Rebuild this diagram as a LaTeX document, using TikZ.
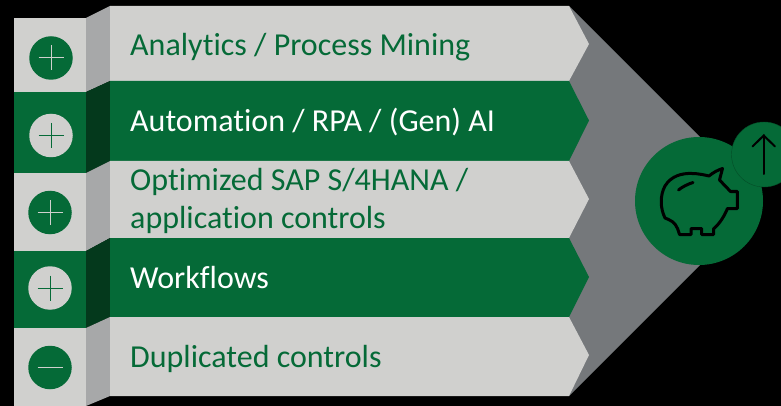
\documentclass[tikz,border=0pt]{standalone}
\usepackage{fontspec}
\setmainfont[Ligatures=NoCommon]{Carlito}
\definecolor{leaf}{HTML}{056A37}
\definecolor{leafdark}{HTML}{04391C}
\definecolor{stone}{HTML}{D0D0CE}
\definecolor{stonedark}{HTML}{A7A8A9}
\definecolor{slate}{HTML}{75787B}
\tikzset{
  rowtext/.style= {anchor=base west, inner sep=0, font=\fontsize{32}{38}\selectfont, align=left},
  darktext/.style= {rowtext, text=leaf},
  lighttext/.style= {rowtext, text=white},
  sign/.style= {circle, minimum size=43.5pt, inner sep=0},
  darksign/.style= {sign, fill=leaf},
  lightsign/.style= {sign, fill=stone},
  bar/.style= {line width=1pt},
}

\begin{document}
\begin{tikzpicture}[x=1pt, y=-1pt]
  \useasboundingbox (0,0) rectangle (781,406);
  \fill [black] (0,0) rectangle (781,406);

  \fill [slate] (569,6) -- (700,137) -- (700,265) -- (569,396) -- cycle;

  \fill [stone] (14,18) rectangle (86,92);
  \fill [leaf] (14,92) rectangle (86,173);
  \fill [stone] (14,173) rectangle (86,251);
  \fill [leaf] (14,251) rectangle (86,328);
  \fill [stone] (14,328) rectangle (86,406);

  \fill [stonedark] (86,18) -- (110,6) -- (110,81) -- (86,92) -- cycle;
  \fill [leafdark] (86,92) -- (110,81) -- (110,161) -- (86,173) -- cycle;
  \fill [stonedark] (86,173) -- (110,161) -- (110,238) -- (86,251) -- cycle;
  \fill [leafdark] (86,251) -- (110,238) -- (110,317) -- (86,328) -- cycle;
  \fill [stonedark] (86,328) -- (110,317) -- (110,396) -- (86,406) -- cycle;

  \fill [stone] (110,6) -- (569,6) -- (589,44) -- (569,81) -- (110,81) -- cycle;
  \fill [leaf] (110,81) -- (569,81) -- (589,120.5) -- (569,161) -- (110,161) -- cycle;
  \fill [stone] (110,161) -- (569,161) -- (589,199) -- (569,238) -- (110,238) -- cycle;
  \fill [leaf] (110,238) -- (569,238) -- (589,277) -- (569,317) -- (110,317) -- cycle;
  \fill [stone] (110,317) -- (569,317) -- (589,355) -- (569,396) -- (110,396) -- cycle;

  \node [darksign] (s1) at (51,58) {};
  \node [lightsign] (s2) at (51,135.5) {};
  \node [darksign] (s3) at (50,212.5) {};
  \node [lightsign] (s4) at (50,288) {};
  \node [darksign] (s5) at (50,367.5) {};

  \draw [bar, stone] (s1.center) ++(-12.5,0) -- ++(25,0) (s1.center) ++(0,-12.5) -- ++(0,25);
  \draw [bar, leaf] (s2.center) ++(-12.5,0) -- ++(25,0) (s2.center) ++(0,-12.5) -- ++(0,25);
  \draw [bar, stone] (s3.center) ++(-12.5,0) -- ++(25,0) (s3.center) ++(0,-12.5) -- ++(0,25);
  \draw [bar, leaf] (s4.center) ++(-12.5,0) -- ++(25,0) (s4.center) ++(0,-12.5) -- ++(0,25);
  \draw [bar, stone] (s5.center) ++(-12.5,0) -- ++(25,0);

  \node [darktext] (t1) at (130,55.5) {Analytics / Process Mining};
  \node [lighttext] (t2) at (130,131.5) {Automation / RPA / (Gen) AI};
  \node [darktext, anchor=west] (t3) at (130,201) {Optimized SAP S/4HANA /\\application controls};
  \node [lighttext] (t4) at (130,288) {Workflows};
  \node [darktext] (t5) at (130,367) {Duplicated controls};

  \node [circle, fill=leaf, minimum size=128pt, inner sep=0] (coin) at (699,201) {};
  \node [circle, fill=leaf, draw=leafdark!60!leaf, line width=0.4pt, minimum size=65pt, inner sep=0] (up) at (764,154.5) {};

  \draw [black, line width=2pt, line cap=round] (up.center) ++(0,19.5) -- ++(0,-39);
  \draw [black, line width=2pt, line cap=round, line join=round] (752.5,146.5) -- (763.7,135.5) -- (775,146.5);

  \draw [black, line width=3pt, line join=round, line cap=round]
    (722.5,168.5) -- (719.5,180) -- (730.5,191.5) -- (737.3,191.5) -- (737.3,208.5) -- (727.5,208.5)
    .. controls (723,219) and (718,225) .. (713.5,229) -- (713.5,234.5) -- (701.5,234.5) -- (701.5,228.5)
    -- (691,228.5) -- (691,234.5) -- (679.5,234.5) -- (677.5,228.5)
    .. controls (675,222) and (670,220) .. (665,218)
    .. controls (660,208) and (660,195) .. (665,186)
    .. controls (671,176) and (682,173) .. (692,173.5)
    .. controls (698,173.5) and (705,175) .. (709,176)
    .. controls (713,172.5) and (718,170) .. (722.5,168.5) -- cycle;
  \draw [black, line width=3pt, line cap=round] (678.5,190) .. controls (682,187) and (688,184) .. (693,182.5);
\end{tikzpicture}
\end{document}
